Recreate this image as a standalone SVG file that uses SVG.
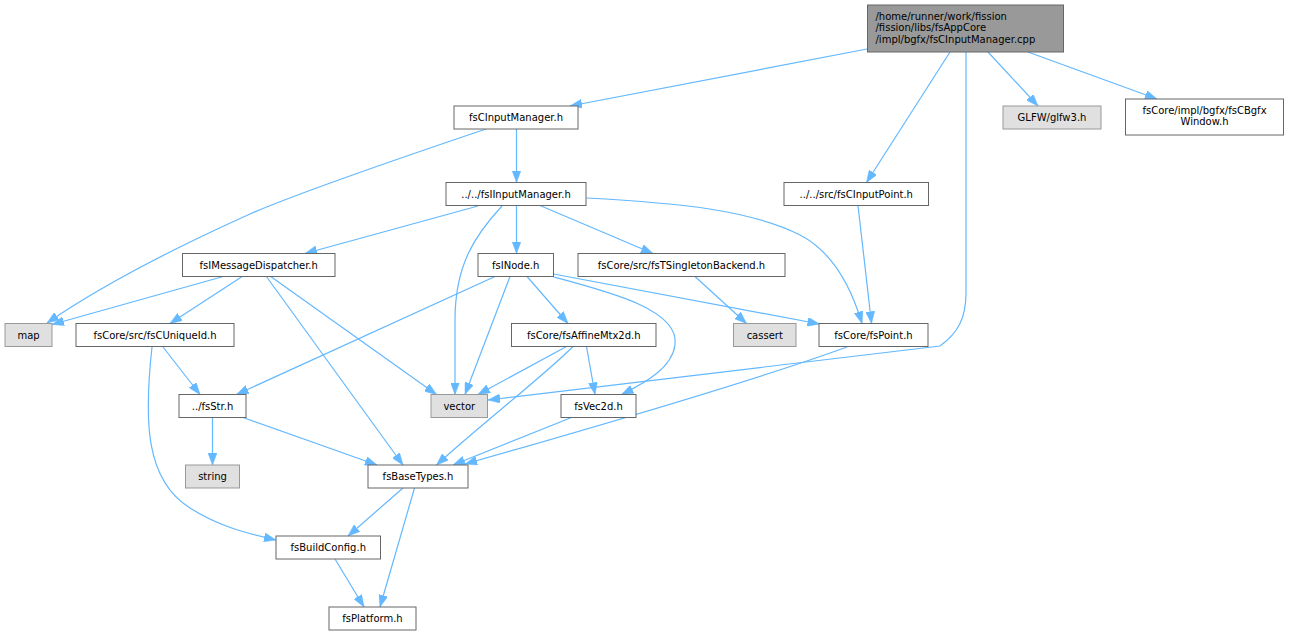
<svg xmlns="http://www.w3.org/2000/svg" width="1289" height="635" viewBox="0 0 1289 635">
<style>
.n rect{fill:#ffffff;stroke:#666666;stroke-width:1}
.g rect{fill:#e0e0e0;stroke:#999999;stroke-width:1}
.r rect{fill:#999999;stroke:#666666;stroke-width:1}
text{font-family:"DejaVu Sans","Liberation Sans",sans-serif;font-size:10px;fill:#000000;text-anchor:middle}
.r text{text-anchor:start}
#edges path{fill:none;stroke:#63b8ff;stroke-width:1.2;marker-end:url(#ah)}
</style>
<defs>
<marker id="ah" markerUnits="userSpaceOnUse" viewBox="0 0 12 9" markerWidth="12" markerHeight="9" refX="12" refY="4.5" orient="auto">
<path d="M0,0 L12,4.5 L0,9 z" fill="#63b8ff" stroke="#63b8ff" stroke-width="0.5"/>
</marker>
</defs>
<rect width="1289" height="635" fill="#ffffff"/>
<g id="edges">
<path d="M867,49 L570,106"/>
<path d="M950,52 L866.5,182.5"/>
<path d="M966,52 L966,293 C966,318 958,333 940,346 L488,400"/>
<path d="M988,52 L1038,106"/>
<path d="M1028,52 L1157,99"/>
<path d="M486,129 C400,158 300,192 250,214 C170,250 95,290 47,323"/>
<path d="M516.5,129 L516.5,182.5"/>
<path d="M478,206 L305,253.5"/>
<path d="M502,206 C475,235 455,265 455,320 L455,394.5"/>
<path d="M516.5,205.5 L516.5,253.5"/>
<path d="M540,205.5 L653,253.5"/>
<path d="M586.5,198 C680,203 750,210 800,235 C835,253 852,290 862,323.5"/>
<path d="M858,205.5 L871.5,323.5"/>
<path d="M225,276 L52,324.5"/>
<path d="M243,276 L170,323.5"/>
<path d="M266,276 L403,465"/>
<path d="M270,276 L436.5,394.5"/>
<path d="M495,276.5 L236.5,394.5"/>
<path d="M510,276.5 L465,394.5"/>
<path d="M527,276.5 L568,323.5"/>
<path d="M553.5,277 C610,292 680,310 675,345 C672,368 645,383 621.5,394.5"/>
<path d="M553.5,274 L819.5,324"/>
<path d="M695,276.5 L746.5,323.5"/>
<path d="M847,347 C770,375 620,420 465,464"/>
<path d="M566.5,346.5 L478,394.5"/>
<path d="M586.5,346.5 L595,394.5"/>
<path d="M573,346.5 C545,375 480,425 436.5,465"/>
<path d="M571.5,417.5 L453,465"/>
<path d="M163,347 L200,394.5"/>
<path d="M152,347 C144,420 145,480 190,508 C215,524 240,532 276,540"/>
<path d="M212.5,417.5 L212.5,465"/>
<path d="M243,417.5 L377,465"/>
<path d="M403,488 L348,536"/>
<path d="M414.5,488 L380,607"/>
<path d="M335,559 L364,607"/>
</g>
<g id="root" class="r"><rect x="867.5" y="5" width="196" height="47"/><text x="875.5" y="19.5">/home/runner/work/fission</text><text x="875.5" y="31">/fission/libs/fsAppCore</text><text x="875.5" y="42.5">/impl/bgfx/fsCInputManager.cpp</text></g>
<g id="fsCInputManager" class="n"><rect x="454" y="106" width="124" height="23"/><text x="516" y="121">fsCInputManager.h</text></g>
<g id="glfw3" class="g"><rect x="1003" y="106" width="98" height="23"/><text x="1052" y="121">GLFW/glfw3.h</text></g>
<g id="fsCBgfxWindow" class="n"><rect x="1125.5" y="99" width="158" height="36"/><text x="1204.5" y="113.5">fsCore/impl/bgfx/fsCBgfx</text><text x="1204.5" y="125">Window.h</text></g>
<g id="fsIInputManager" class="n"><rect x="446" y="182.5" width="140" height="23"/><text x="516" y="197.5">../../fsIInputManager.h</text></g>
<g id="fsCInputPoint" class="n"><rect x="784" y="182.5" width="144.5" height="23"/><text x="856.25" y="197.5">../../src/fsCInputPoint.h</text></g>
<g id="fsIMessageDispatcher" class="n"><rect x="182.5" y="253.5" width="152.5" height="23"/><text x="258.75" y="268.5">fsIMessageDispatcher.h</text></g>
<g id="fsINode" class="n"><rect x="478" y="253.5" width="75.5" height="23"/><text x="515.75" y="268.5">fsINode.h</text></g>
<g id="fsTSingletonBackend" class="n"><rect x="578" y="253.5" width="207" height="23"/><text x="681.5" y="268.5">fsCore/src/fsTSingletonBackend.h</text></g>
<g id="map" class="g"><rect x="5" y="323.5" width="47" height="23"/><text x="28.5" y="338.5">map</text></g>
<g id="fsCUniqueId" class="n"><rect x="76" y="323.5" width="158" height="23"/><text x="155" y="338.5">fsCore/src/fsCUniqueId.h</text></g>
<g id="fsAffineMtx2d" class="n"><rect x="511.5" y="323.5" width="144.5" height="23"/><text x="583.75" y="338.5">fsCore/fsAffineMtx2d.h</text></g>
<g id="cassert" class="g"><rect x="733.5" y="323.5" width="62.5" height="23"/><text x="764.75" y="338.5">cassert</text></g>
<g id="fsPoint" class="n"><rect x="819" y="323.5" width="109" height="23"/><text x="873.5" y="338.5">fsCore/fsPoint.h</text></g>
<g id="fsStr" class="n"><rect x="179" y="394.5" width="67" height="23"/><text x="212.5" y="409.5">../fsStr.h</text></g>
<g id="vector" class="g"><rect x="431" y="394.5" width="56.5" height="23"/><text x="459.25" y="409.5">vector</text></g>
<g id="fsVec2d" class="n"><rect x="561" y="394.5" width="75" height="23"/><text x="598.5" y="409.5">fsVec2d.h</text></g>
<g id="string" class="g"><rect x="185.5" y="465" width="54" height="23"/><text x="212.5" y="480">string</text></g>
<g id="fsBaseTypes" class="n"><rect x="368" y="465" width="100" height="23"/><text x="418" y="480">fsBaseTypes.h</text></g>
<g id="fsBuildConfig" class="n"><rect x="276" y="536" width="104.5" height="23"/><text x="328.25" y="551">fsBuildConfig.h</text></g>
<g id="fsPlatform" class="n"><rect x="329" y="607" width="87" height="23"/><text x="372.5" y="622">fsPlatform.h</text></g>
</svg>
